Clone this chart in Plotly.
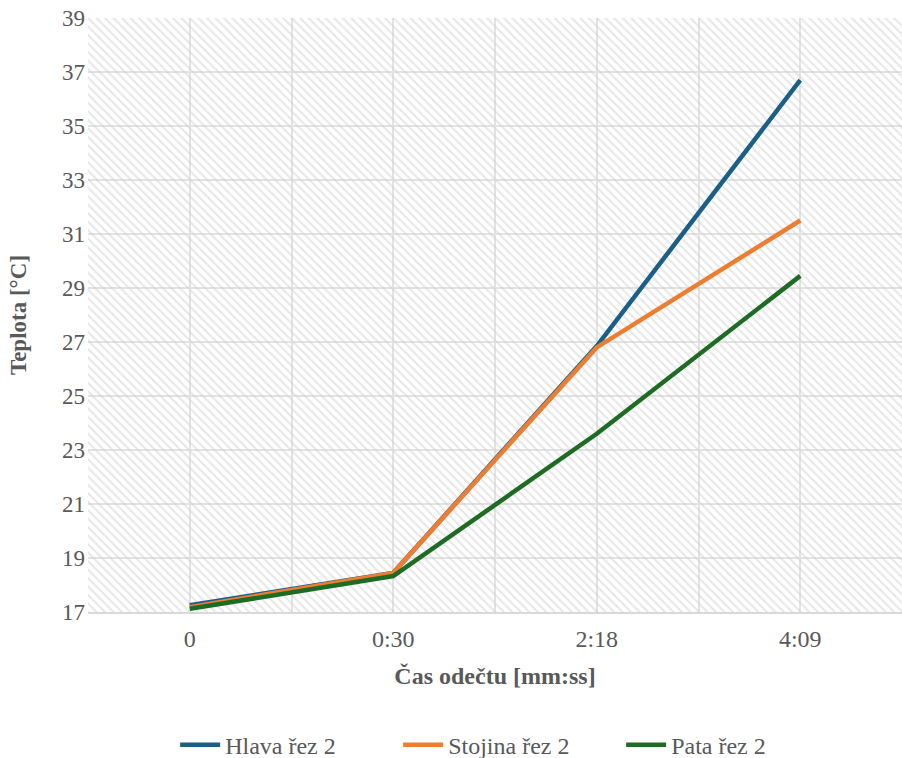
import plotly.graph_objects as go

categories = ["0", "0:30", "2:18", "4:09"]
hlava = [17.25, 18.45, 26.85, 36.7]
stojina = [17.18, 18.45, 26.8, 31.5]
pata = [17.12, 18.33, 23.6, 29.45]
series_names = ["Hlava řez 2", "Stojina řez 2", "Pata řez 2"]
colors = ["#1A5F87", "#ED7D31", "#1E6B24"]

x_range = [-0.5, len(categories) - 0.5]
y_range = [17, 39]
xs = list(range(len(categories)))

FONT = "Liberation Serif"
TXT = "#595959"
fig = go.Figure()

# hatched plot-area background
fig.add_trace(go.Scatter(
    x=[x_range[0], x_range[1], x_range[1], x_range[0], x_range[0]],
    y=[y_range[0], y_range[0], y_range[1], y_range[1], y_range[0]],
    mode="none", fill="toself", fillcolor="rgba(0,0,0,0)",
    fillpattern=dict(shape="\\", fgcolor="#cfcfcf", bgcolor="rgba(0,0,0,0)",
                     size=6, solidity=0.35),
    hoverinfo="skip", showlegend=False,
))

for name, vals, c in zip(series_names, [hlava, stojina, pata], colors):
    fig.add_trace(go.Scatter(x=xs, y=vals, mode="lines", name=name,
                             line=dict(color=c, width=4.5)))

fig.update_layout(
    width=902, height=758,
    margin=dict(l=88, r=0, t=18, b=146, autoexpand=False),
    plot_bgcolor="white", paper_bgcolor="white",
    font=dict(family=FONT, size=23, color=TXT),
    showlegend=True,
    legend=dict(orientation="h", x=0.518, xanchor="center", y=-0.224, yanchor="middle",
                font=dict(family=FONT, size=24, color=TXT),
                itemwidth=40, entrywidth=168, entrywidthmode="pixels",
                traceorder="normal"),
    xaxis=dict(range=x_range, tickmode="array", tickvals=xs, ticktext=categories,
               automargin=False, ticklabelstandoff=4,
               showgrid=True, gridcolor="#e3e3e3", gridwidth=1.5,
               minor=dict(tickvals=[v + 0.5 for v in [-1] + xs], showgrid=True,
                          gridcolor="#e3e3e3", gridwidth=1.5),
               showline=True, linecolor="#d9d9d9", linewidth=2,
               zeroline=False, ticks="",
               tickfont=dict(family=FONT, size=24, color=TXT),
               title=dict(text="<b>Čas odečtu [mm:ss]</b>", standoff=16,
                          font=dict(family=FONT, size=24, color=TXT))),
    yaxis=dict(range=y_range, tickmode="array", tickvals=list(range(17, 40, 2)),
               automargin=False, ticklabelstandoff=2,
               showgrid=True, gridcolor="#e3e3e3", gridwidth=1.5,
               zeroline=False, showline=False, ticks="",
               tickfont=dict(family=FONT, size=23, color=TXT),
               title=dict(text="<b>Teplota [°C]</b>", standoff=28,
                          font=dict(family=FONT, size=23, color=TXT))),
)

fig.write_html("out.html", config={"displayModeBar": False},
               post_script="document.body.style.margin='0';document.body.style.overflow='hidden';")
